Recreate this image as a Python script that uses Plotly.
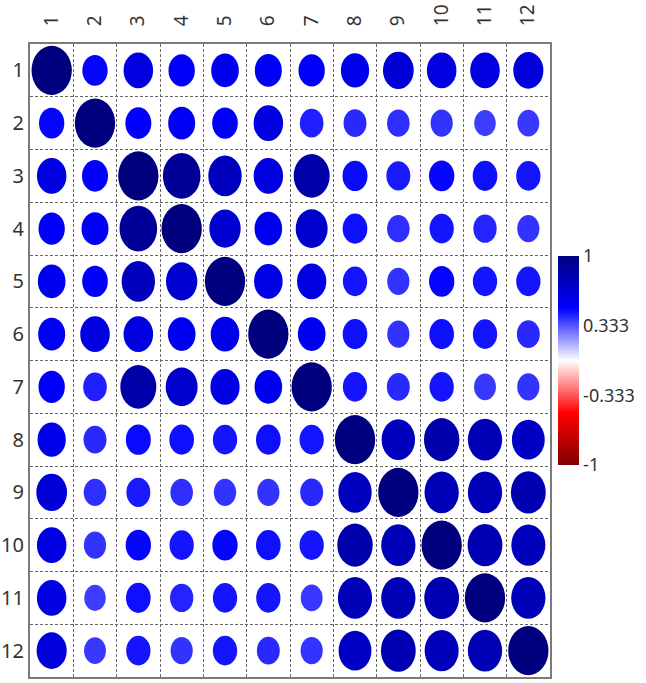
import numpy as np
import plotly.graph_objects as go
from plotly.colors import sample_colorscale

labels = [str(i) for i in range(1, 13)]

# correlation matrix (symmetric)
corr = [
    [1.00, 0.49, 0.62, 0.52, 0.56, 0.54, 0.52, 0.58, 0.66, 0.62, 0.62, 0.64],
    [0.49, 1.00, 0.51, 0.54, 0.50, 0.62, 0.44, 0.42, 0.41, 0.40, 0.38, 0.39],
    [0.62, 0.51, 1.00, 0.90, 0.75, 0.62, 0.84, 0.48, 0.45, 0.49, 0.47, 0.46],
    [0.52, 0.54, 0.90, 1.00, 0.68, 0.56, 0.70, 0.47, 0.41, 0.46, 0.43, 0.40],
    [0.56, 0.50, 0.75, 0.68, 1.00, 0.59, 0.61, 0.46, 0.40, 0.49, 0.46, 0.46],
    [0.54, 0.62, 0.62, 0.56, 0.59, 1.00, 0.56, 0.47, 0.40, 0.47, 0.46, 0.42],
    [0.52, 0.44, 0.84, 0.70, 0.61, 0.56, 1.00, 0.46, 0.42, 0.46, 0.39, 0.40],
    [0.58, 0.42, 0.48, 0.47, 0.46, 0.47, 0.46, 1.00, 0.75, 0.82, 0.78, 0.73],
    [0.66, 0.41, 0.45, 0.41, 0.40, 0.40, 0.42, 0.75, 1.00, 0.78, 0.78, 0.80],
    [0.62, 0.40, 0.49, 0.46, 0.49, 0.47, 0.46, 0.82, 0.78, 1.00, 0.80, 0.77],
    [0.62, 0.38, 0.47, 0.43, 0.46, 0.46, 0.39, 0.78, 0.78, 0.80, 1.00, 0.78],
    [0.64, 0.39, 0.46, 0.40, 0.46, 0.42, 0.40, 0.73, 0.80, 0.77, 0.78, 1.00],
]

cbar_ticks = [-1, -0.333, 0.333, 1]
cbar_text = ["-1", "-0.333", "0.333", "1"]

scale = [[0.0, "#7F0000"], [0.25, "#FF0000"], [0.5, "#FFFFFF"],
         [0.75, "#0000FF"], [1.0, "#00007F"]]

n = len(labels)
corr = np.array(corr)
rows, cols = np.meshgrid(np.arange(1, n + 1), np.arange(1, n + 1), indexing="ij")
vals = corr.ravel()

fig = go.Figure()
fig.add_trace(go.Scatter(
    x=cols.ravel(), y=rows.ravel(), mode="markers",
    marker=dict(size=1, opacity=0, color=vals, colorscale=scale, cmin=-1, cmax=1,
                showscale=True,
                colorbar=dict(x=1.0154, xanchor="left", y=0.5, yanchor="middle",
                              xpad=0, ypad=0, len=0.33, thickness=21, outlinewidth=0,
                              tickvals=cbar_ticks, ticktext=cbar_text, ticks="",
                              tickfont=dict(size=18, color="#333", family="Noto Sans"))),
    hoverinfo="skip", showlegend=False))

# circles sized by |r|, stretched into ellipses by the cell shape
fills = sample_colorscale(scale, list((vals + 1) / 2))
for (i, j, v, c) in zip(rows.ravel(), cols.ravel(), vals, fills):
    rad = 0.465 * abs(v) ** 0.65
    fig.add_shape(type="circle", xref="x", yref="y",
                  x0=j - rad, x1=j + rad, y0=i - rad, y1=i + rad,
                  fillcolor=c, line=dict(width=0), layer="above")

grid = [k + 0.5 for k in range(1, n)]
axis_common = dict(showline=True, mirror=True, linecolor="#7a7a7a", linewidth=2,
                   showgrid=False, zeroline=False, automargin=False,
                   minor=dict(tickvals=grid, showgrid=True, griddash="3px,2px",
                              gridcolor="#666666", gridwidth=1, ticks=""))

fig.update_xaxes(range=[0.5, n + 0.5], side="top", tickvals=list(range(1, n + 1)),
                 ticktext=labels, tickangle=-90, ticks="outside", ticklen=12,
                 tickcolor="rgba(0,0,0,0)",
                 tickfont=dict(size=19, color="#333", family="Noto Sans"), **axis_common)
fig.update_yaxes(range=[n + 0.5, 0.5], tickvals=list(range(1, n + 1)),
                 ticktext=labels, ticks="",
                 tickfont=dict(size=20, color="#333", family="Noto Sans"), **axis_common)

fig.update_layout(width=646, height=683, margin=dict(l=30, r=96, t=44, b=6),
                  plot_bgcolor="white", paper_bgcolor="white")

# drop the page's default body margin so the figure fills the window
fig.write_html("out.html", config={"displayModeBar": False},
               post_script="document.body.style.margin='0';")
